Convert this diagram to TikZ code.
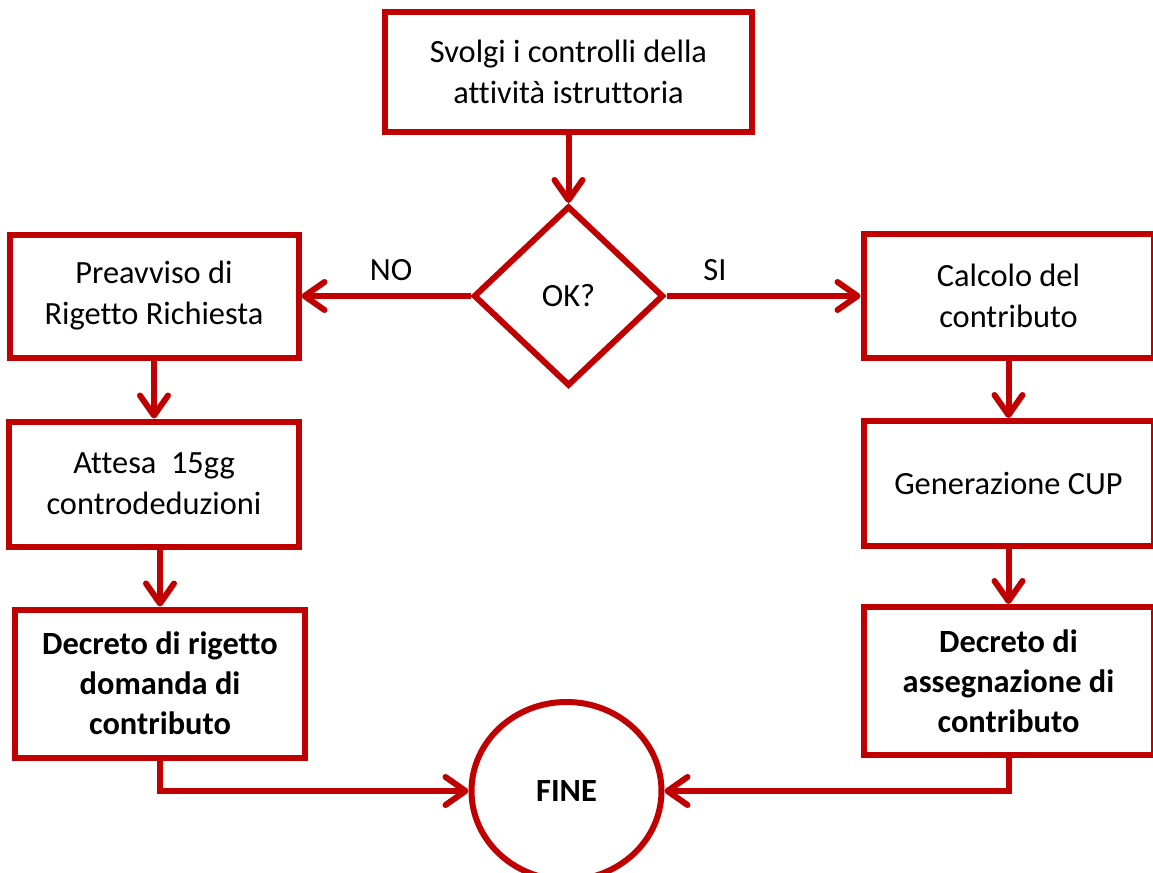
\documentclass[tikz,border=0pt]{standalone}
\usepackage{fontspec}
\setmainfont{Carlito}[Ligatures=NoCommon]
\usepackage{tikz}
\usetikzlibrary{positioning, shapes.geometric, arrows.meta}
\definecolor{rosso}{HTML}{C00000}
\tikzset{
  block/.style={draw=rosso, line width=3pt, fill=white, rectangle, align=center, minimum width=145pt, minimum height=62pt, inner sep=2pt},
  decision/.style={draw=rosso, line width=3pt, fill=white, diamond, minimum width=95pt, minimum height=90pt, inner sep=0pt},
  terminal/.style={draw=rosso, line width=3pt, fill=white, ellipse, minimum width=95pt, minimum height=89pt, font=\bfseries\fontsize{16.2}{20.5}\selectfont},
  bold/.style={font=\bfseries\fontsize{16.2}{20}\selectfont},
  arrow/.style={draw=rosso, line width=3pt, -{Straight Barb[length=10pt,width=14pt,round]}}
}

\begin{document}
\begin{tikzpicture}[thick, every node/.style={font=\fontsize{16.2}{20.5}\selectfont}]
            \useasboundingbox (0,0) rectangle (576.5pt,-436.5pt);
            \node[block, minimum width=183.5pt, minimum height=60pt] (svolgi) at (284.25pt,-36pt) {Svolgi i controlli della\\attività istruttoria};
            \node[decision, below=34pt of svolgi] (ok) {OK?};
            \node[block, left=84.5pt of ok, minimum width=144.5pt, minimum height=61.5pt] (pre) {Preavviso di\\Rigetto Richiesta};
            \node[block, below=29pt of pre, minimum height=62.5pt] (att) {Attesa\ \ 15gg\\controdeduzioni};
            \node[block, bold, below=28.5pt of att, xshift=3pt, minimum height=74pt] (rig) {Decreto di rigetto\\domanda di\\contributo};
            \node[block, right=97pt of ok] (calc) {Calcolo del\\contributo};
            \node[block, below=28.5pt of calc, minimum height=62.5pt] (cup) {Generazione CUP};
            \node[block, bold, below=27.5pt of cup, minimum height=74pt] (ass) {Decreto di\\assegnazione di\\contributo};
            \node[terminal, below=155pt of ok, xshift=-1pt] (fine) {FINE};
            \draw[arrow] (svolgi) -- (ok);
            \draw[arrow] (ok.west) -- node[above=3pt, pos=0.47] (no) {NO} (ok.west -| pre.east);
            \draw[arrow] (ok.east) -- node[above=3pt, pos=0.25] (si) {SI} (ok.east -| calc.west);
            \draw[arrow] (pre) -- (att);
            \draw[arrow] (rig.north |- att.south) -- (rig.north);
            \draw[arrow] (calc) -- (cup);
            \draw[arrow] (cup) -- (ass);
            \draw[arrow] (rig.south) |- (fine.west);
            \draw[arrow] (ass.south) |- (fine.east);
        \end{tikzpicture}
\end{document}
